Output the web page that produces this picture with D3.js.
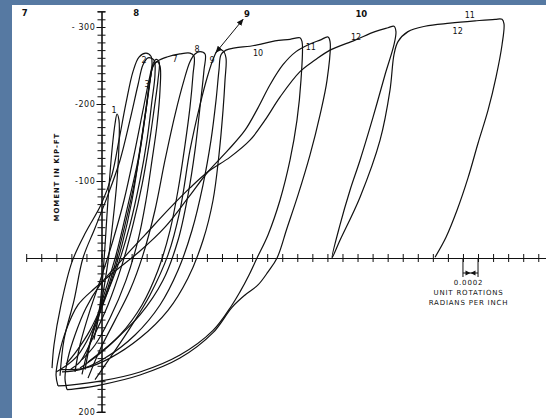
<!DOCTYPE html>
<html><head><meta charset="utf-8">
<script src="https://cdn.jsdelivr.net/npm/d3@7"></script>
<style>
html,body{margin:0;padding:0;background:#5679a2;}
svg{display:block;}
text{font-family:"DejaVu Sans",sans-serif;fill:#111;}
</style></head>
<body>
<svg id="c" width="546" height="418"></svg>
<script>
// Rotation in units of 0.0001 rad/in, moment in kip-ft (negative moment plotted upward)
const loop1 = [[-1.0,106],[-0.2,61],[0.33,3],[0.86,-75],[1.39,-140],[1.79,-174],[2.06,-187],[2.32,-179],[2.32,-147],[2.06,-101],[1.53,-49],[0.86,5],[-0.07,61],[-0.86,100]];
const loop2 = [[-6.57,143],[-6.31,113],[-5.38,61],[-3.92,5],[-2.06,-34],[-0.07,-69],[1.39,-108],[2.32,-153],[3.25,-201],[4.18,-242],[4.98,-261],[5.91,-266],[6.57,-262],[6.71,-252],[6.44,-229],[5.91,-192],[5.25,-147],[4.32,-95],[3.12,-43],[1.66,13],[0.07,61],[-1.53,100],[-3.12,126],[-4.71,140],[-6.04,148]];
const loop3 = [[-3.52,148],[-2.86,113],[-1.53,68],[0.07,22],[1.53,-23],[2.99,-75],[4.32,-134],[5.51,-192],[6.31,-231],[6.84,-252],[7.24,-258],[7.64,-255],[7.5,-231],[6.97,-192],[6.31,-147],[5.38,-95],[4.18,-43],[2.72,9],[0.86,61],[-1.26,106],[-2.86,135],[-4.18,145]];
const loop4 = [[-2.19,145],[-1.26,100],[0.2,52],[1.93,-4],[3.52,-69],[4.85,-127],[5.78,-186],[6.44,-231],[6.84,-249],[7.37,-255],[7.77,-249],[7.77,-218],[7.37,-173],[6.71,-127],[5.91,-75],[4.85,-23],[3.25,29],[1.13,78],[-0.86,113],[-2.59,132]];
const loop5 = [[-5.51,153],[-4.98,106],[-3.65,55],[-2.46,0],[-0.86,-39],[0.86,-82],[2.46,-127],[3.78,-179],[4.85,-225],[5.51,-251],[6.18,-260],[6.97,-257],[7.1,-238],[6.71,-205],[6.04,-153],[5.11,-101],[3.78,-43],[2.19,9],[0.33,55],[-1.53,94],[-3.39,122],[-4.71,138]];
const loop7 = [[-2.59,151],[-1.79,119],[-0.46,78],[1.13,35],[2.72,-17],[4.05,-75],[5.11,-140],[5.91,-192],[6.44,-231],[6.84,-249],[7.5,-256],[8.7,-261],[10.42,-265],[11.75,-266],[12.28,-262],[12.15,-238],[11.75,-196],[11.09,-147],[10.16,-88],[9.1,-36],[7.5,16],[5.38,61],[2.46,100],[-0.46,126],[-2.86,143]];
const loop8 = [[-1.79,156],[-0.2,119],[1.79,81],[3.78,42],[5.51,-4],[7.1,-62],[8.43,-127],[9.76,-186],[10.96,-231],[11.75,-255],[12.42,-265],[13.08,-268],[13.75,-265],[13.61,-244],[13.08,-196],[12.42,-140],[11.49,-82],[10.16,-23],[8.17,29],[5.11,74],[1.39,110],[-1.79,135]];
const loop9 = [[-0.86,158],[1.39,126],[3.78,91],[6.44,48],[8.83,-4],[10.42,-62],[11.75,-140],[13.08,-199],[14.14,-238],[14.94,-261],[15.47,-270],[16.14,-269],[16.53,-260],[16.4,-231],[16.14,-192],[15.6,-134],[14.81,-75],[13.48,-23],[11.49,26],[8.83,68],[5.11,104],[1.13,130],[-2.19,143],[-5.51,145]];
const loop10 = [[-5.25,148],[-2.86,145],[0.46,130],[4.45,100],[7.77,61],[10.16,16],[12.02,-36],[13.48,-95],[14.54,-153],[15.21,-205],[15.6,-244],[15.87,-264],[16.53,-270],[17.73,-273],[19.72,-275],[21.31,-278],[23.04,-282],[25.03,-284],[26.36,-286],[26.63,-281],[26.49,-231],[25.96,-179],[25.03,-127],[23.7,-75],[22.11,-30],[20.65,0],[19.59,22],[18.39,44],[17.33,61],[14.81,94],[10.42,126],[5.11,148],[-0.2,160],[-4.18,165],[-5.78,166]];
const loop11 = [[-5.78,166],[-6.04,152],[-5.64,126],[-4.71,94],[-3.12,61],[-0.86,39],[1.79,17],[5.11,-9],[8.43,-40],[11.49,-78],[14.14,-112],[16.8,-140],[19.06,-166],[20.78,-195],[22.38,-225],[24.1,-251],[25.83,-268],[27.69,-278],[29.02,-283],[30.08,-287],[30.35,-281],[29.95,-231],[29.02,-186],[27.69,-134],[26.1,-82],[24.64,-39],[23.31,0],[22.11,18],[20.78,35],[19.06,48],[17.33,64],[14.81,97],[10.42,130],[5.11,152],[-0.2,165],[-3.52,170],[-4.58,171]];
const loop12 = [[-4.58,171],[-4.85,156],[-4.45,130],[-3.52,100],[-2.06,65],[-0.2,35],[2.46,5],[5.78,-30],[9.1,-65],[11.75,-91],[14.14,-112],[17.07,-131],[19.72,-153],[21.71,-179],[23.7,-209],[26.36,-242],[28.35,-257],[30.35,-270],[33.67,-283],[36.32,-294],[38.05,-299],[38.84,-301],[39.1,-294],[38.84,-277],[37.65,-238],[36.06,-183],[34.33,-127],[33.0,-88],[31.67,-43],[30.6,0],[31.67,-23],[34.33,-79],[36.99,-153],[38.31,-218],[38.84,-264],[39.37,-281],[40.7,-294],[42.96,-301],[46.28,-305],[49.6,-308],[52.26,-310],[53.19,-310],[53.45,-304],[53.19,-277],[52.39,-235],[51.33,-192],[50.0,-149],[48.67,-104],[47.21,-62],[45.75,-27],[44.29,-1]];
const loops = [loop1, loop2, loop3, loop4, loop5, loop7, loop8, loop9, loop10, loop11, loop12];

// cycle number labels: [text, rotation, moment]
const cycleLabels = [["1",1.66,-192],["2",5.64,-256],["3",6.04,-225],["7",9.76,-258],["8",12.68,-271],["9",14.67,-257],["10",20.78,-265],["11",27.8,-273],["12",33.8,-286],["12",47.3,-294],["11",48.9,-315]];
const topLabels = [["7",-10.2,-317],["8",4.6,-317],["9",19.3,-316],["10",34.5,-316]];
const yTickLabels = [[-300,"- 300"],[-200,"-200"],[-100,"-100"],[200,"200"]];
const scaleBar = [48, 50];       // 0.0002 rad/in reference
const arrow9 = [[15.2,-267],[18.8,-310]];

const svg = d3.select("#c");
svg.append("rect").attr("x",12).attr("y",5).attr("width",534).attr("height",413).attr("fill","#fff");

const x = d3.scaleLinear().domain([-10, 59]).range([26.2, 545.8]);
const y = d3.scaleLinear().domain([-320, 200]).range([11.6, 412]);

// x axis (ticks crossing)
const xt = d3.range(-10, 59, 2);
[4,-4].forEach(s=>{
  const g = svg.append("g").attr("transform",`translate(0,${y(0)})`)
    .call(d3.axisBottom(x).tickValues(xt).tickSize(s).tickSizeOuter(0).tickFormat(""));
  g.select(".domain").attr("stroke","#111").attr("stroke-width",1);
  g.selectAll(".tick line").attr("stroke","#111").attr("stroke-width",1);
});
// y axis
const yt = d3.range(-320, 201, 10);
[4,-4].forEach(s=>{
  const g = svg.append("g").attr("transform",`translate(${x(0)},0)`)
    .call(d3.axisLeft(y).tickValues(yt).tickSize(s).tickSizeOuter(0).tickFormat(""));
  g.select(".domain").attr("stroke","#111").attr("stroke-width",1.1);
  g.selectAll(".tick line").attr("stroke","#111").attr("stroke-width",1);
});
const gl = svg.append("g").attr("transform",`translate(${x(0)},0)`)
  .call(d3.axisLeft(y).tickValues(yTickLabels.map(d=>d[0])).tickSize(5).tickPadding(1)
     .tickFormat(v=>yTickLabels.find(d=>d[0]===v)[1]));
gl.select(".domain").remove();
gl.selectAll(".tick line").attr("stroke","#111");
gl.selectAll(".tick text").style("font-family","DejaVu Sans, sans-serif").style("font-size","8px").style("letter-spacing","0.6px").attr("fill","#111");
// end caps
[-320,200].forEach(v=>svg.append("line").attr("x1",x(0)-4).attr("x2",x(0)+4).attr("y1",y(v)).attr("y2",y(v)).attr("stroke","#111"));

// curves
const line = d3.line().x(d=>x(d[0])).y(d=>y(d[1])).curve(d3.curveCatmullRom.alpha(0.5));
svg.append("g").selectAll("path").data(loops).join("path")
  .attr("d", line).attr("fill","none").attr("stroke","#111").attr("stroke-width",1.2).attr("stroke-linejoin","round");

// labels
svg.append("g").selectAll("text").data(cycleLabels).join("text")
  .attr("x",d=>x(d[1])).attr("y",d=>y(d[2])).attr("text-anchor","middle").attr("dominant-baseline","middle")
  .style("font-size","8px").text(d=>d[0]);
svg.append("g").selectAll("text").data(topLabels).join("text")
  .attr("x",d=>x(d[1])).attr("y",d=>y(d[2])).attr("text-anchor","middle").attr("dominant-baseline","middle")
  .style("font-size","8.5px").style("font-weight","bold").text(d=>d[0]);

// arrow for 9
const defs = svg.append("defs");
defs.append("marker").attr("id","ah").attr("viewBox","0 0 10 10").attr("refX",9).attr("refY",5)
  .attr("markerWidth",7).attr("markerHeight",7).attr("orient","auto-start-reverse")
  .append("path").attr("d","M0,1 L10,5 L0,9 Z").attr("fill","#111");
svg.append("line").attr("x1",x(arrow9[0][0])).attr("y1",y(arrow9[0][1])).attr("x2",x(arrow9[1][0])).attr("y2",y(arrow9[1][1]))
  .attr("stroke","#111").attr("stroke-width",1).attr("marker-end","url(#ah)").attr("marker-start","url(#ah)");

// scale bar
const x1 = x(scaleBar[0]), x2 = x(scaleBar[1]), yb = y(0);
svg.append("line").attr("x1",x1).attr("x2",x1).attr("y1",yb).attr("y2",yb+19).attr("stroke","#111");
svg.append("line").attr("x1",x2).attr("x2",x2).attr("y1",yb).attr("y2",yb+19).attr("stroke","#111");
svg.append("line").attr("x1",x1).attr("x2",x2).attr("y1",yb+15).attr("y2",yb+15).attr("stroke","#111");
const xm = (x1+x2)/2;
svg.append("path").attr("d",`M${xm-5},${yb+12.5} L${xm},${yb+15} L${xm-5},${yb+17.5} Z M${xm+5},${yb+12.5} L${xm},${yb+15} L${xm+5},${yb+17.5} Z`).attr("fill","#111");
const capT = [["0.0002",yb+25],["UNIT ROTATIONS",yb+35],["RADIANS PER INCH",yb+45]];
svg.append("g").selectAll("text").data(capT).join("text")
  .attr("x",xm-2).attr("y",d=>d[1]).attr("text-anchor","middle").attr("dominant-baseline","middle")
  .style("font-size","7px").style("letter-spacing","0.8px").text(d=>d[0]);

// y title
svg.append("text").attr("transform",`translate(57,${y(-105)}) rotate(-90)`).attr("text-anchor","middle").attr("dominant-baseline","middle")
  .style("font-size","7px").style("font-weight","bold").style("letter-spacing","0.9px").text("MOMENT IN KIP-FT");
</script>
</body></html>
